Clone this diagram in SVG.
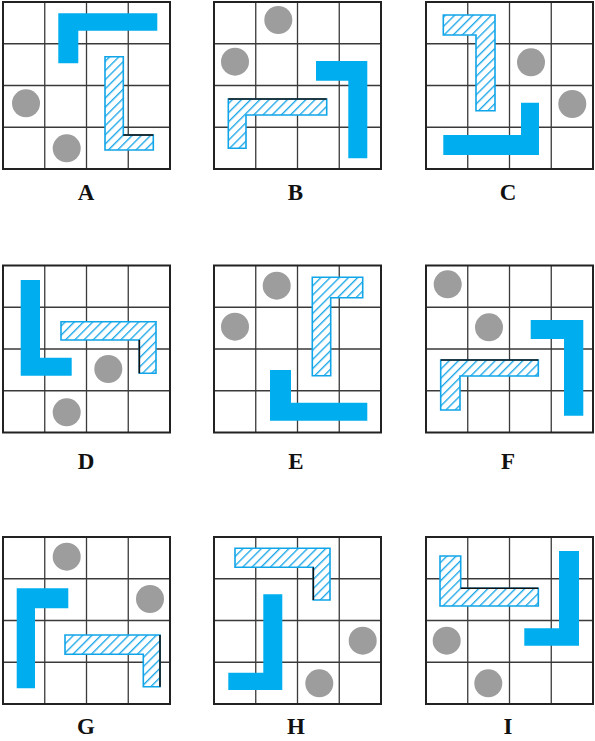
<svg xmlns="http://www.w3.org/2000/svg" xmlns:xlink="http://www.w3.org/1999/xlink" width="595" height="741" viewBox="0 0 595 741">
<style>
.solid{fill:#00aeef;stroke:none}
.hatch{fill:url(#hp);stroke:#10a4e8;stroke-width:1.6}
.edge{stroke:#111;stroke-width:1.6;fill:none}
.dot{fill:#9d9d9d}
.lbl{font-family:"Liberation Serif","Times New Roman",serif;font-weight:bold;font-size:23px;text-anchor:middle;fill:#111}
</style>
<defs>
<pattern id="hp" patternUnits="userSpaceOnUse" width="6.5" height="6.5" patternTransform="rotate(45)">
<rect width="6.5" height="6.5" fill="#fff"/>
<line x1="0.7" y1="0" x2="0.7" y2="6.5" stroke="#10a4e8" stroke-width="1.3"/>
</pattern>
<g id="grid">
<rect x="0" y="0" width="167" height="167" fill="#fff" stroke="none"/>
<path d="M41.75 0V167M83.5 0V167M125.25 0V167M0 41.75H167M0 83.5H167M0 125.25H167" stroke="#3a3a3a" stroke-width="1.3" fill="none"/>
<rect x="0" y="0" width="167" height="167" fill="none" stroke="#222" stroke-width="2"/>
</g>
</defs>
<rect width="595" height="741" fill="#fff"/>

<g id="panelA">
<use xlink:href="#grid" x="3" y="2"/>
<circle class="dot" cx="26" cy="103.3" r="14"/>
<circle class="dot" cx="66.7" cy="148.3" r="14"/>
<polygon class="solid" points="58.3,13.3 157.3,13.3 157.3,30.7 78.3,30.7 78.3,63.3 58.3,63.3"/>
<polygon class="hatch" points="105,56.7 123.3,56.7 123.3,135 153.3,135 153.3,150 105,150"/>
<line class="edge" x1="123.3" y1="135" x2="153.3" y2="135"/>
<text class="lbl" x="86" y="200">A</text>
</g>

<g id="panelB">
<use xlink:href="#grid" x="214" y="2"/>
<circle class="dot" cx="278.3" cy="20" r="14"/>
<circle class="dot" cx="235" cy="61.7" r="14"/>
<polygon class="solid" points="316,61 367.3,61 367.3,158.3 348.3,158.3 348.3,80.7 316,80.7"/>
<polygon class="hatch" points="228.3,99 326.7,99 326.7,115 246,115 246,148.3 228.3,148.3"/>
<line class="edge" x1="228.3" y1="99" x2="326.7" y2="99"/>
<text class="lbl" x="295.5" y="200">B</text>
</g>

<g id="panelC">
<use xlink:href="#grid" x="426" y="2"/>
<circle class="dot" cx="531" cy="62.3" r="14"/>
<circle class="dot" cx="572.3" cy="104" r="14"/>
<polygon class="hatch" points="443.3,15 495,15 495,110.7 476,110.7 476,35 443.3,35"/>
<polygon class="solid" points="443.3,135 521,135 521,102.7 539,102.7 539,155 443.3,155"/>
<text class="lbl" x="508" y="200">C</text>
</g>

<g id="panelD">
<use xlink:href="#grid" x="3" y="265.5"/>
<circle class="dot" cx="108.3" cy="369" r="14"/>
<circle class="dot" cx="66.7" cy="412.3" r="14"/>
<polygon class="solid" points="20.7,280 40,280 40,357.7 71.7,357.7 71.7,375.7 20.7,375.7"/>
<polygon class="hatch" points="61,321.7 156,321.7 156,373.3 139.3,373.3 139.3,340 61,340"/>
<line class="edge" x1="139.3" y1="340" x2="139.3" y2="373.3"/>
<text class="lbl" x="86" y="469">D</text>
</g>

<g id="panelE">
<use xlink:href="#grid" x="214" y="265.5"/>
<circle class="dot" cx="276.7" cy="285.7" r="14"/>
<circle class="dot" cx="235" cy="326.7" r="14"/>
<polygon class="hatch" points="312.3,277.3 362.7,277.3 362.7,297.7 330.7,297.7 330.7,375.7 312.3,375.7"/>
<polygon class="solid" points="270,370 291,370 291,402.7 367.3,402.7 367.3,420.7 270,420.7"/>
<text class="lbl" x="296" y="469">E</text>
</g>

<g id="panelF">
<use xlink:href="#grid" x="426" y="265.5"/>
<circle class="dot" cx="447.7" cy="284.3" r="14"/>
<circle class="dot" cx="489" cy="327.3" r="14"/>
<polygon class="solid" points="530.7,320 583.3,320 583.3,415.7 564,415.7 564,339 530.7,339"/>
<polygon class="hatch" points="440.7,360 538.3,360 538.3,376 460,376 460,410 440.7,410"/>
<line class="edge" x1="440.7" y1="360" x2="538.3" y2="360"/>
<text class="lbl" x="508" y="469">F</text>
</g>

<g id="panelG">
<use xlink:href="#grid" x="3" y="537"/>
<circle class="dot" cx="66.7" cy="556.7" r="14"/>
<circle class="dot" cx="150" cy="599" r="14"/>
<polygon class="solid" points="16.7,588.3 68.3,588.3 68.3,608.3 35,608.3 35,688.3 16.7,688.3"/>
<polygon class="hatch" points="65,635 160,635 160,686.7 143.3,686.7 143.3,654.3 65,654.3"/>
<line class="edge" x1="160" y1="635" x2="160" y2="686.7"/>
<text class="lbl" x="86" y="734">G</text>
</g>

<g id="panelH">
<use xlink:href="#grid" x="214" y="537"/>
<circle class="dot" cx="362.7" cy="640.7" r="14"/>
<circle class="dot" cx="319.3" cy="683.3" r="14"/>
<polygon class="hatch" points="235,548.3 330,548.3 330,600 313.3,600 313.3,567.3 235,567.3"/>
<line class="edge" x1="313.3" y1="567.3" x2="313.3" y2="600"/>
<polygon class="solid" points="263.3,594.3 282.3,594.3 282.3,690 228.3,690 228.3,672.7 263.3,672.7"/>
<text class="lbl" x="296" y="734">H</text>
</g>

<g id="panelI">
<use xlink:href="#grid" x="426" y="537"/>
<circle class="dot" cx="446.7" cy="640.7" r="14"/>
<circle class="dot" cx="488.3" cy="683.3" r="14"/>
<polygon class="hatch" points="440,556 460.7,556 460.7,588.3 538.3,588.3 538.3,606 440,606"/>
<line class="edge" x1="460.7" y1="588.3" x2="538.3" y2="588.3"/>
<polygon class="solid" points="559,551 579,551 579,645.7 524.3,645.7 524.3,628.3 559,628.3"/>
<text class="lbl" x="508" y="734">I</text>
</g>

<g id="connectors"></g>
</svg>
